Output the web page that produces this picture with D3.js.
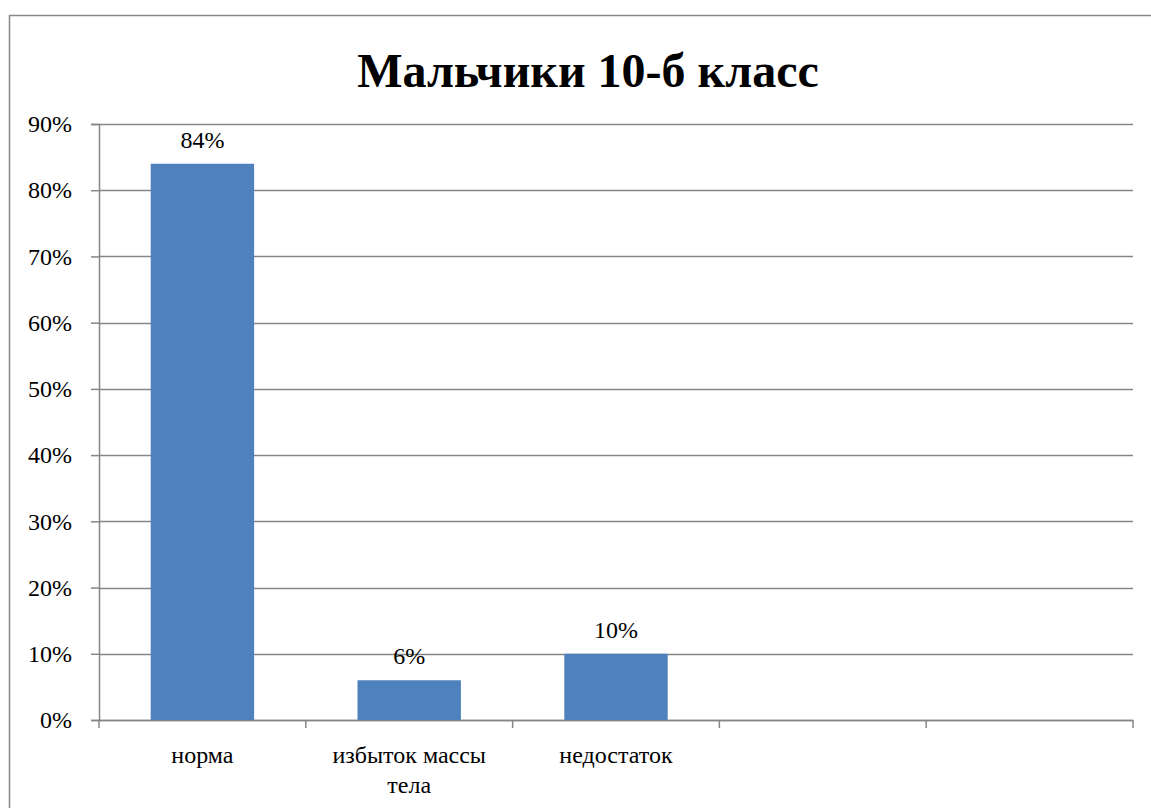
<!DOCTYPE html>
<html>
<head>
<meta charset="utf-8">
<script src="https://cdn.jsdelivr.net/npm/d3@7"></script>
<style>
	body { margin: 0; background: #fff; }
	text { font-family: "Liberation Serif", "Times New Roman", serif; fill: #000; }
</style>
</head>
<body>
<div class="chart"></div>
<script>
	var title = "Мальчики 10-б класс";
	var categories = ["норма", "избыток массы тела", "недостаток", "", ""];
	var values = [0.84, 0.06, 0.10, null, null];
	var yTicks = [0, 0.1, 0.2, 0.3, 0.4, 0.5, 0.6, 0.7, 0.8, 0.9];

	var W = 1151, H = 808;
	var margin = {top: 124, right: 18, bottom: 88, left: 99};
	var FONT = "'Liberation Serif', 'Times New Roman', serif";

	var svg = d3.select(".chart").append("svg")
		.attr("width", W)
		.attr("height", H);

	// outer chart border (runs off the right and bottom edge)
	svg.append("rect")
		.attr("x", 9.5).attr("y", 15.5)
		.attr("width", W + 20).attr("height", H + 20)
		.attr("fill", "none")
		.attr("stroke", "#868686")
		.attr("stroke-width", 1.5);

	svg.append("text")
		.attr("x", 588)
		.attr("y", 87)
		.attr("text-anchor", "middle")
		.style("font-family", FONT)
		.style("font-size", "48px")
		.style("font-weight", "bold")
		.text(title);

	var g = svg.append("g")
		.attr("transform", "translate(" + margin.left + "," + margin.top + ")");

	var width = W - margin.left - margin.right,
		height = H - margin.top - margin.bottom;

	var x = d3.scaleBand()
		.domain(d3.range(categories.length))
		.range([0, width])
		.paddingInner(0.5)
		.paddingOuter(0.25);

	var y = d3.scaleLinear()
		.domain([0, 0.9])
		.range([height, 0]);

	// gridlines
	g.selectAll("line.grid").data(yTicks).enter().append("line")
		.attr("class", "grid")
		.attr("x1", 0).attr("x2", width)
		.attr("y1", function (d) { return Math.round(y(d)) + 0.5; })
		.attr("y2", function (d) { return Math.round(y(d)) + 0.5; })
		.attr("stroke", "#868686")
		.attr("stroke-width", 1.5);

	// y axis
	var yAxis = d3.axisLeft(y)
		.tickValues(yTicks)
		.tickSize(8)
		.tickPadding(19)
		.tickFormat(d3.format(".0%"));
	var ya = g.append("g").call(yAxis);
	ya.attr("font-family", null).attr("font-size", null);
	ya.select(".domain").attr("stroke", "#868686").attr("stroke-width", 1.5);
	ya.selectAll(".tick line").attr("stroke", "#868686").attr("stroke-width", 1.5);
	ya.selectAll(".tick text")
		.style("font-size", "24px")
		.style("font-family", FONT)
		.attr("fill", "#000");

	// x axis ticks at band boundaries
	var bounds = d3.range(categories.length + 1).map(function (i) { return i * width / categories.length; });
	g.append("line")
		.attr("x1", 0).attr("x2", width)
		.attr("y1", height + 0.5).attr("y2", height + 0.5)
		.attr("stroke", "#868686").attr("stroke-width", 1.5);
	g.selectAll("line.xtick").data(bounds).enter().append("line")
		.attr("class", "xtick")
		.attr("x1", function (d) { return d; }).attr("x2", function (d) { return d; })
		.attr("y1", height).attr("y2", height + 8)
		.attr("stroke", "#868686").attr("stroke-width", 1.5);

	// bars
	var data = categories.map(function (c, i) { return {cat: c, i: i, v: values[i]}; })
		.filter(function (d) { return d.v != null; });

	g.selectAll("rect.bar").data(data).enter().append("rect")
		.attr("class", "bar")
		.attr("x", function (d) { return x(d.i); })
		.attr("width", x.bandwidth())
		.attr("y", function (d) { return y(d.v); })
		.attr("height", function (d) { return height - y(d.v); })
		.attr("fill", "#4f81bd");

	g.selectAll("text.val").data(data).enter().append("text")
		.attr("class", "val")
		.attr("x", function (d) { return x(d.i) + x.bandwidth() / 2; })
		.attr("y", function (d) { return y(d.v) - 16; })
		.attr("text-anchor", "middle")
		.style("font-family", FONT)
		.style("font-size", "24px")
		.text(function (d) { return Math.round(d.v * 100) + "%"; });

	// category labels, wrapped like the original
	var wrapped = {"избыток массы тела": ["избыток массы", "тела"]};
	categories.forEach(function (c, i) {
		if (!c) return;
		var lines = wrapped[c] || [c];
		var t = g.append("text")
			.attr("x", x(i) + x.bandwidth() / 2)
			.attr("y", height + 43)
			.attr("text-anchor", "middle")
			.style("font-family", FONT)
			.style("font-size", "24px");
		lines.forEach(function (l, k) {
			t.append("tspan")
				.attr("x", x(i) + x.bandwidth() / 2)
				.attr("dy", k === 0 ? 0 : 30)
				.text(l);
		});
	});
</script>
</body>
</html>
